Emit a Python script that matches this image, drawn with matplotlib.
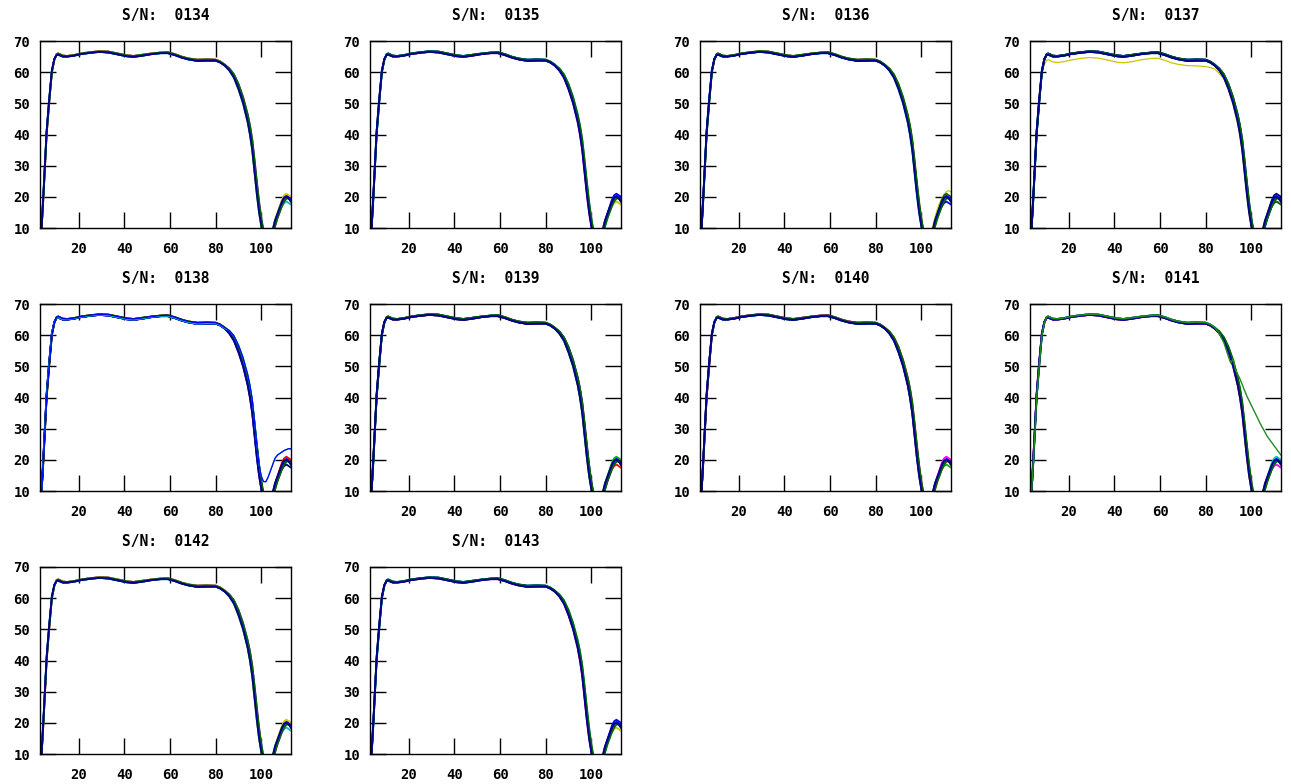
import matplotlib
matplotlib.use("Agg")
import matplotlib.pyplot as plt

# ---------------- data ----------------
SERIALS = ["0134", "0135", "0136", "0137", "0138",
           "0139", "0140", "0141", "0142", "0143"]

X_TICKS = [20, 40, 60, 80, 100]
Y_TICKS = [10, 20, 30, 40, 50, 60, 70]

# rising edge + plateau (shared x grid)
X_BODY = [3.7, 4.5, 5.2, 5.9, 7.0, 8.2, 9.3, 10.3, 11.0, 13.0, 15.0, 18.0,
          21.0, 25.0, 29.0, 33.0, 37.0, 41.0, 44.0, 48.0, 52.0, 56.0, 59.0,
          62.0, 65.0, 68.0, 72.0, 76.0, 80.0, 82.0, 84.0]
Y_BODY_A = [10, 20, 30, 40, 50, 60, 64.0, 65.8, 66.0, 65.3, 65.2, 65.5,
            66.0, 66.4, 66.7, 66.6, 66.0, 65.4, 65.2, 65.6, 66.0, 66.3, 66.4,
            65.8, 65.0, 64.4, 64.0, 64.1, 64.0, 63.4, 62.4]
Y_BODY_B = [10, 21, 31, 41, 51, 60.5, 64.3, 65.5, 65.6, 65.0, 65.0, 65.3,
            65.8, 66.2, 66.5, 66.3, 65.7, 65.1, 64.9, 65.3, 65.8, 66.1, 66.1,
            65.5, 64.7, 64.1, 63.6, 63.7, 63.7, 63.1, 62.1]
Y_BODY_0137_LOW = [10, 20, 30, 40, 50, 59.5, 62.5, 63.8, 64.0, 63.3, 63.1,
                   63.4, 63.9, 64.4, 64.7, 64.5, 63.9, 63.2, 63.0, 63.4, 64.0,
                   64.4, 64.5, 63.8, 63.0, 62.5, 62.1, 62.0, 61.8, 61.5, 61.0]

# roll-off + notch + recovery (shared x grid)
X_TAIL = [86, 88, 90, 92, 94, 95, 96, 97, 98, 99, 100, 101, 102, 103, 104,
          105, 106, 107, 108, 109, 110, 111, 112, 113]
Y_TAIL_1 = [60.8, 58.8, 55.5, 51.0, 45.5, 42.0, 37.0, 30.5, 23.5, 17.0, 12.0,
            8.0, 5.0, 4.0, 5.5, 8.5, 11.5, 14.0, 16.0, 18.0, 19.5, 20.3, 19.8,
            19.0]
Y_TAIL_2 = [60.5, 58.2, 54.5, 50.0, 44.0, 40.0, 35.0, 28.0, 21.0, 15.0, 10.5,
            7.0, 4.5, 4.0, 6.0, 9.5, 12.5, 14.5, 16.5, 18.5, 19.8, 20.0, 19.5,
            18.5]
Y_TAIL_3 = [61.2, 59.3, 56.2, 52.0, 46.5, 43.0, 38.5, 32.0, 25.0, 18.5, 13.0,
            9.0, 6.0, 4.5, 5.0, 7.5, 10.5, 13.0, 15.0, 17.0, 18.5, 19.5, 19.5,
            18.5]
Y_TAIL_4 = [61.0, 59.0, 55.8, 51.5, 46.0, 42.5, 37.8, 31.0, 24.0, 17.5, 12.5,
            8.5, 5.5, 4.2, 5.2, 8.0, 11.0, 13.5, 15.5, 17.0, 18.0, 18.5, 18.0,
            17.5]
Y_TAIL_5 = [60.6, 58.5, 55.0, 50.5, 45.0, 41.0, 36.0, 29.0, 22.0, 16.0, 11.0,
            7.5, 4.8, 4.0, 5.8, 9.0, 12.0, 14.5, 16.8, 19.0, 20.5, 21.0, 20.5,
            20.0]
Y_TAIL_0137_LOW = [59.5, 57.8, 54.8, 50.5, 45.0, 41.5, 36.5, 30.0, 23.0, 16.5,
                   11.5, 7.5, 4.8, 4.0, 5.5, 8.5, 11.5, 13.5, 15.5, 17.0, 18.0,
                   18.5, 18.5, 18.0]
Y_TAIL_0138_HIGH = [61.5, 59.8, 56.8, 52.8, 47.5, 44.0, 39.5, 32.5, 25.0,
                    18.5, 14.5, 13.0, 13.0, 14.5, 16.5, 18.5, 20.5, 21.5, 22.0,
                    22.5, 23.0, 23.3, 23.6, 23.5]
Y_TAIL_0136_HIGH = [60.7, 58.6, 55.2, 50.8, 45.2, 41.5, 36.5, 29.5, 22.5,
                    16.5, 11.5, 8.0, 5.5, 5.0, 7.0, 10.5, 13.5, 16.0, 18.0,
                    19.5, 20.8, 21.7, 22.0, 21.5]
X_TAIL_0141_SLOW = [86, 88, 90, 91, 92, 93, 95, 98, 101, 104, 107, 110, 113]
Y_TAIL_0141_SLOW = [60.5, 57.5, 53.0, 51.0, 52.5, 49.0, 46.0, 40.5, 36.0,
                    31.5, 27.5, 24.5, 21.5]

COLORS = ["#ff0000", "#00b000", "#ff00ff", "#00c0c0", "#c8c800",
          "#0000ff", "#006400", "#00008b"]

STANDARD = [(Y_BODY_A, Y_TAIL_1), (Y_BODY_B, Y_TAIL_2), (Y_BODY_A, Y_TAIL_3),
            (Y_BODY_B, Y_TAIL_4), (Y_BODY_A, Y_TAIL_5), (Y_BODY_B, Y_TAIL_1),
            (Y_BODY_A, Y_TAIL_3), (Y_BODY_B, Y_TAIL_2)]

# ---------------- figure ----------------
W, H = 1291, 784
fig = plt.figure(figsize=(W / 100, H / 100), dpi=100)
fig.patch.set_facecolor("white")

COL_LEFT = [40, 370, 700, 1030]
ROW_TOP = [41, 304, 567]
AX_W, AX_H = 251, 187

FONT = dict(family="DejaVu Sans Mono", weight="bold")


def curve(body, tx, ty):
    return list(X_BODY) + list(tx), list(body) + list(ty)


for i, sn in enumerate(SERIALS):
    r, c = divmod(i, 4)
    left = COL_LEFT[c]
    top = ROW_TOP[r]
    ax = fig.add_axes([left / W, 1 - (top + AX_H) / H, AX_W / W, AX_H / H])

    extra = []
    if sn == "0137":
        extra.append((Y_BODY_0137_LOW, X_TAIL, Y_TAIL_0137_LOW, "#c8c800", 0))
    if sn == "0136":
        extra.append((Y_BODY_A, X_TAIL, Y_TAIL_0136_HIGH, "#c8c800", 0))
    if sn == "0138":
        extra.append((Y_BODY_B, X_TAIL, Y_TAIL_0138_HIGH, "#00c0c0", 1))
        extra.append((Y_BODY_A, X_TAIL, Y_TAIL_0138_HIGH, "#0000ff", 1))

    for body, tx, ty, col, _ in [e for e in extra if e[4] == 0]:
        xs, ys = curve(body, tx, ty)
        ax.plot(xs, ys, color=col, lw=0.9)

    for k, (body, ty) in enumerate(STANDARD):
        col = COLORS[(k + i) % len(COLORS)] if k < 5 else COLORS[k]
        xs, ys = curve(body, X_TAIL, ty)
        ax.plot(xs, ys, color=col, lw=1.3)

    for body, tx, ty, col, _ in [e for e in extra if e[4] == 1]:
        xs, ys = curve(body, tx, ty)
        ax.plot(xs, ys, color=col, lw=0.9)

    if sn == "0141":
        xs, ys = curve(Y_BODY_A, X_TAIL_0141_SLOW, Y_TAIL_0141_SLOW)
        ax.plot(xs, ys, color="#228b22", lw=1.0)

    ax.set_xlim(3, 113)
    ax.set_ylim(10, 70)
    ax.set_xticks(X_TICKS)
    ax.set_yticks(Y_TICKS)
    ax.set_xticklabels([str(t) for t in X_TICKS], **FONT, fontsize=10)
    ax.set_yticklabels([str(t) for t in Y_TICKS], **FONT, fontsize=10)
    ax.tick_params(direction="in", length=11.5, width=1.0, top=True,
                   right=True, colors="black")
    ax.tick_params(axis="x", pad=10)
    ax.tick_params(axis="y", pad=7)
    for sp in ax.spines.values():
        sp.set_linewidth(1.0)
        sp.set_color("black")
    ax.set_title("S/N:  " + sn, **FONT, fontsize=10.5, pad=15)

fig.savefig("out.png", dpi=100, facecolor="white")
